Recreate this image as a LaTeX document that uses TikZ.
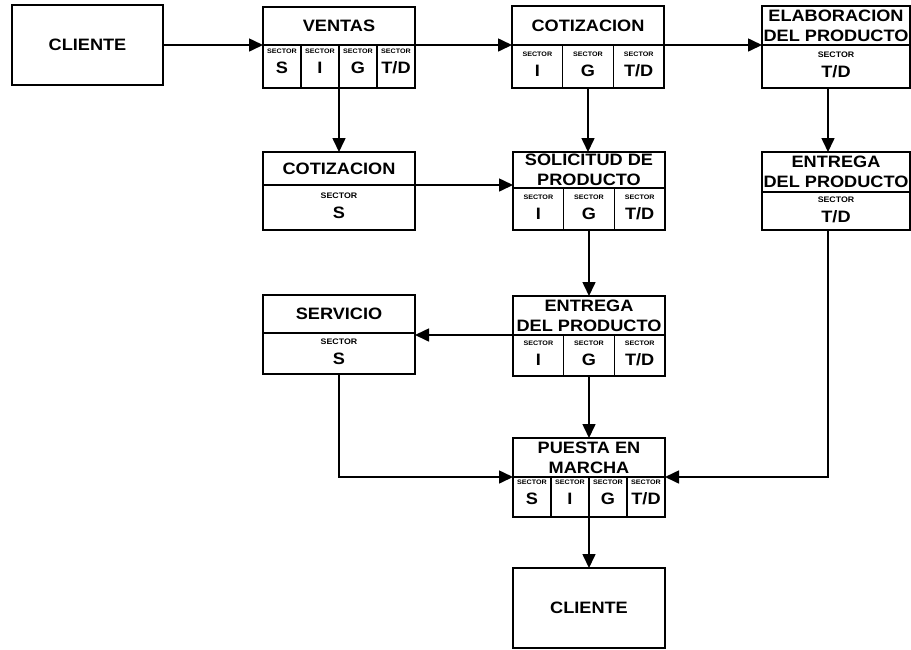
\documentclass[tikz,border=0pt]{standalone}
\usepackage{fontspec}
\setmainfont[FakeStretch=1.1]{Liberation Sans}
\usetikzlibrary{arrows.meta}
\usetikzlibrary{positioning}

\newcommand{\sectsmall}{{\fontsize{6.5}{6.5}\selectfont SECTOR}}
\newcommand{\sectbig}{{\fontsize{8}{8}\selectfont SECTOR}}

\tikzset{
  titlebox/.style={draw, line width=1.6pt, minimum width=152pt, inner sep=0pt, outer sep=0pt,
    align=center, font=\bfseries\fontsize{16.5}{20}\selectfont},
  cellbox/.style={draw, line width=1.6pt, inner sep=0pt, outer sep=0pt, anchor=north west,
    align=center, font=\bfseries\fontsize{16.5}{20}\selectfont, text depth=4pt},
}

\begin{document}
\begin{tikzpicture}[x=1pt, y=-1pt, ->, >={Triangle[length=14pt,width=13pt]}, line width=1.6pt]
  \useasboundingbox (0,0) rectangle (911,649);

  % fila 1
  \node[titlebox, minimum width=151pt, minimum height=80pt] (cliente) at (87.5,45) {CLIENTE};

  \node[titlebox, minimum height=38pt] (ventas) at (339,26) {VENTAS};
  \foreach \s [count=\i] in {S,I,G,{T/D}}
    \node[cellbox, minimum width=38pt, minimum height=43pt, text depth=11pt] (ventas\i)
      at ([xshift={(\i-1)*38}]ventas.south west) {\sectsmall\\ \s};

  \node[titlebox, minimum height=39pt] (cotiz) at (588,25.5) {COTIZACION};
  \foreach \s [count=\i] in {I,G,{T/D}}
    \node[cellbox, minimum width=50.67pt, minimum height=43pt] (cotiz\i)
      at ([xshift={(\i-1)*50.67}]cotiz.south west) {\sectsmall\\ \s};

  \node[titlebox, minimum width=148pt, minimum height=39pt] (elab) at (836,25.5) {ELABORACION\\DEL PRODUCTO};
  \node[cellbox, minimum width=148pt, minimum height=43pt] (elab1) at (elab.south west) {\sectbig\\ T/D};

  % fila 2
  \node[titlebox, minimum height=33pt] (cotizs) at (339,168.5) {COTIZACION};
  \node[cellbox, minimum width=152pt, minimum height=45pt] (cotizs1) at (cotizs.south west) {\sectbig\\ S};

  \node[titlebox, minimum height=36pt] (solic) at (589,170) {SOLICITUD DE\\PRODUCTO};
  \foreach \s [count=\i] in {I,G,{T/D}}
    \node[cellbox, minimum width=50.67pt, minimum height=42pt] (solic\i)
      at ([xshift={(\i-1)*50.67}]solic.south west) {\sectsmall\\ \s};

  \node[titlebox, minimum width=148pt, minimum height=40pt] (entregatd) at (836,172) {ENTREGA\\DEL PRODUCTO};
  \node[cellbox, minimum width=148pt, minimum height=38pt, text depth=2pt] (entregatd1) at (entregatd.south west) {\sectbig\\ T/D};

  % fila 3
  \node[titlebox, minimum height=38pt] (servicio) at (339,314) {SERVICIO};
  \node[cellbox, minimum width=152pt, minimum height=41pt] (servicio1) at (servicio.south west) {\sectbig\\ S};

  \node[titlebox, minimum height=39pt] (entrega) at (589,315.5) {ENTREGA\\DEL PRODUCTO};
  \foreach \s [count=\i] in {I,G,{T/D}}
    \node[cellbox, minimum width=50.67pt, minimum height=41pt] (entrega\i)
      at ([xshift={(\i-1)*50.67}]entrega.south west) {\sectsmall\\ \s};

  % fila 4
  \node[titlebox, minimum height=39pt] (puesta) at (589,457.5) {PUESTA EN\\MARCHA};
  \foreach \s [count=\i] in {S,I,G,{T/D}}
    \node[cellbox, minimum width=38pt, minimum height=40pt, text depth=9pt] (puesta\i)
      at ([xshift={(\i-1)*38}]puesta.south west) {\sectsmall\\ \s};

  \node[titlebox, minimum height=80pt] (clientefin) at (589,608) {CLIENTE};

  % flechas
  \draw (cliente.east) -- (cliente.east -| ventas.west);
  \draw (ventas.south east) -- (ventas.south east -| cotiz.west);
  \draw (cotiz.south east) -- (cotiz.south east -| elab.west);
  \draw (ventas2.south east) -- (ventas2.south east |- cotizs.north);
  \draw (cotiz2.south) -- (cotiz2.south |- solic.north);
  \draw ([xshift=-8pt]elab1.south) -- ([xshift=-8pt]entregatd.north);
  \draw (cotizs.south east) -- (cotizs.south east -| solic.west);
  \draw (solic2.south) -- (solic2.south |- entrega.north);
  \draw (entrega.south west) -- (entrega.south west -| servicio.east);
  \draw (entrega2.south) -- (entrega2.south |- puesta.north);
  \draw (servicio1.south) |- (puesta.south west);
  \draw ([xshift=-8pt]entregatd1.south) |- (puesta.south east);
  \draw (puesta2.south east) -- (puesta2.south east |- clientefin.north);
\end{tikzpicture}
\end{document}
